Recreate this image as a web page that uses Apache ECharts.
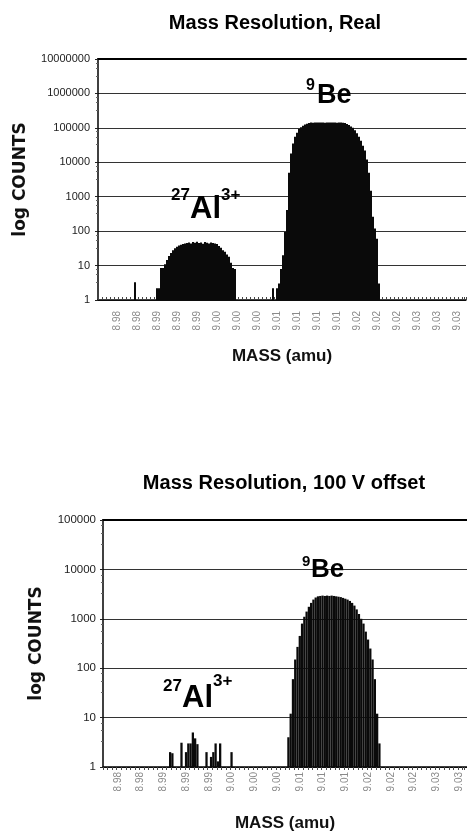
<!DOCTYPE html>
<html>
<head>
<meta charset="utf-8">
<script src="https://cdn.jsdelivr.net/npm/echarts/dist/echarts.min.js"></script>
<style>
html,body{margin:0;padding:0;background:#fff;}
#c{width:467px;height:839px;}
</style>
</head>
<body>
<div id="c"></div>
<script>
// ---------- DATA ----------
const topTitle = 'Mass Resolution, Real';
const bottomTitle = 'Mass Resolution, 100 V offset';
const xName = 'MASS (amu)';
const yName = 'log COUNTS';

// x tick labels (one every 10 bins)
const topTickLabels = ['8.98','8.98','8.99','8.99','8.99','9.00','9.00','9.00','9.01','9.01','9.01','9.01','9.02','9.02','9.02','9.03','9.03','9.03'];
const bottomTickLabels = ['8.98','8.98','8.99','8.99','8.99','9.00','9.00','9.00','9.01','9.01','9.01','9.02','9.02','9.02','9.03','9.03'];

// counts per mass bin (1 = baseline)
const topCounts = [
  1,1,1,1,1,1,1,1,1,1,
  1,1,1,1,1,1,1,1,3.3,1,
  1,1,1,1,1,1,1,1,1,2.2,
  2.2,8.5,8.5,11,14.5,19,23,28,32,35,
  38,40,42,44,45,47,44,48,46,49,
  45,47,43,48,46,44,47,45,44,42,
  37,33,28,25,21,18,12,8.5,8,1,
  1,1,1,1,1,1,1,1,1,1,
  1,1,1,1,1,1,1,2.2,1,2.2,
  3,8,20,95,410,5000,18000,35000,55000,72000,
  92000,105000,115000,125000,132000,138000,142000,141000,143000,142000,
  144000,142000,143000,141000,144000,142000,143000,142000,144000,141000,
  143000,142000,140000,138000,130000,122000,110000,100000,85000,70000,
  55000,42000,30000,22000,12000,5000,1500,260,120,60,
  3,1,1,1,1,1,1,1,1,1,
  1,1,1,1,1,1,1,1,1,1,
  1,1,1,1,1,1,1,1,1,1,
  1,1,1,1,1,1,1,1,1,1,
  1,1,1,1
];
const bottomCounts = [
  1,1,1,1,1,1,1,1,1,1,
  1,1,1,1,1,1,1,1,1,1,
  1,1,1,1,1,1,1,1,1,2,
  1.9,1,1,1,3.1,1,2,3,3,5,
  3.8,2.9,1,1,1,2,1,1.6,2,3,
  1.3,3,1,1,1,1,2,1,1,1,
  1,1,1,1,1,1,1,1,1,1,
  1,1,1,1,1,1,1,1,1,1,
  1,4,12,60,150,270,450,800,1100,1400,
  1750,2100,2450,2700,2850,2900,2950,2900,2950,2900,
  2950,2900,2850,2800,2750,2650,2550,2450,2300,2100,
  1850,1550,1250,1000,800,550,380,250,150,60,
  12,3,1,1,1,1,1,1,1,1,
  1,1,1,1,1,1,1,1,1,1,
  1,1,1,1,1,1,1,1,1,1,
  1,1,1,1,1,1,1,1,1,1
];
const topYMax = 10000000;
const bottomYMax = 100000;

// ---------- CHART ----------
const SANS = "'Liberation Sans', Arial, sans-serif";
const TICKS_PER_LABEL = 10;
const topOffset = 9, bottomOffset = 6;

function binIds(n){ const a=[]; for(let i=0;i<n;i++) a.push(String(i)); return a; }
function labelFmt(labels, offset){
  return function(v, i){
    const j = i - offset;
    if (j >= 0 && j % TICKS_PER_LABEL === 0 && labels[j / TICKS_PER_LABEL] !== undefined) return labels[j / TICKS_PER_LABEL];
    return '';
  };
}

function bottomXAxis(grid, n, labels, offset, margin, tickInside){
  return {
    type:'category', gridIndex:grid, data:binIds(n), boundaryGap:true,
    axisLine:{show:true, lineStyle:{color:'#000', width:1.5}},
    axisTick:{show:true, inside:tickInside, interval:1, length:3, lineStyle:{color:'#444', width:1}},
    axisLabel:{interval:0, rotate:90, margin:margin, fontSize:10, color:'#8a8a8a', fontFamily:SANS, formatter:labelFmt(labels, offset)},
    splitLine:{show:false},
    name:xName, nameLocation:'middle', nameGap:48,
    nameTextStyle:{fontFamily:SANS, fontWeight:'bold', fontSize:17, color:'#111'}
  };
}
function topXAxis(grid, n){
  return {
    type:'category', gridIndex:grid, data:binIds(n), position:'top',
    axisLine:{show:true, lineStyle:{color:'#000', width:2}},
    axisTick:{show:false}, axisLabel:{show:false}, splitLine:{show:false}
  };
}
function yAxis(grid, max, splitNumber, fontSize, margin, nameGap){
  return {
    type:'log', logBase:10, gridIndex:grid, min:1, max:max, splitNumber:splitNumber,
    axisLine:{show:true, lineStyle:{color:'#000', width:1.5}},
    axisTick:{show:true, length:3, lineStyle:{color:'#222'}},
    minorTick:{show:true, splitNumber:4, length:2, lineStyle:{color:'#666'}},
    axisLabel:{fontSize:fontSize, color:'#222', fontFamily:SANS, margin:margin,
      formatter:function(v){ return String(Math.round(v)); }},
    splitLine:{show:true, lineStyle:{color:'#333', width:1}},
    name:yName, nameLocation:'middle', nameRotate:90, nameGap:nameGap,
    nameTextStyle:{fontFamily:"'DejaVu Sans', sans-serif", fontWeight:'bold', fontSize:17, color:'#111'}
  };
}

function txt(x, y, text, size, align){
  return {type:'text', x:x, y:y, silent:true, z:100,
    style:{text:text, font:'bold '+size+'px '+SANS, fill:'#000', textAlign:align||'left', textVerticalAlign:'middle'}};
}

const option = {
  animation:false,
  backgroundColor:'#fff',
  grid:[
    {left:98, top:59, width:368, height:241},
    {left:103, top:520, width:364, height:247}
  ],
  xAxis:[
    bottomXAxis(0, topCounts.length, topTickLabels, topOffset, 11, true),
    topXAxis(0, topCounts.length),
    bottomXAxis(1, bottomCounts.length, bottomTickLabels, bottomOffset, 5, false),
    topXAxis(1, bottomCounts.length)
  ],
  yAxis:[
    yAxis(0, topYMax, 7, 11, 8, 69),
    yAxis(1, bottomYMax, 5, 11.5, 7, 58)
  ],
  series:[
    {type:'bar', xAxisIndex:0, yAxisIndex:0, data:topCounts, barCategoryGap:'0%', barGap:'0%',
     itemStyle:{color:'#0a0a0a'}, silent:true},
    {type:'bar', xAxisIndex:2, yAxisIndex:1, data:bottomCounts, barCategoryGap:'0%', barGap:'0%',
     itemStyle:{color:'#0a0a0a'}, silent:true}
  ],
  graphic:[
    txt(275, 23, topTitle, 20, 'center'),
    txt(284, 483, bottomTitle, 20, 'center'),
    // top annotations
    txt(306, 86, '9', 16),
    txt(317, 96, 'Be', 27),
    txt(171, 195, '27', 17),
    txt(190, 209, 'Al', 31),
    txt(221, 195, '3+', 17),
    // bottom annotations
    txt(302, 562, '9', 15),
    txt(311, 570, 'Be', 26),
    txt(163, 686, '27', 17),
    txt(182, 698, 'Al', 31),
    txt(213, 681, '3+', 17)
  ]
};

const chart = echarts.init(document.getElementById('c'), null, {renderer:'canvas', width:467, height:839});
chart.setOption(option);
</script>
</body>
</html>
